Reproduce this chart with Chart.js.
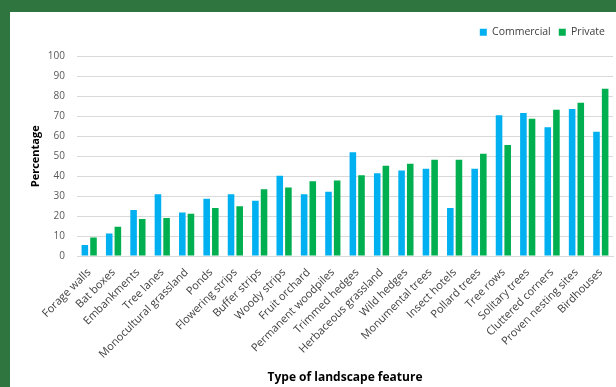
<!DOCTYPE html>
<html lang="en">
<head>
  <meta charset="UTF-8" />
  <title>Landscape features</title>
  <script src="https://cdn.jsdelivr.net/npm/chart.js"></script>
  <style>
    * {
      margin: 0;
      padding: 0;
      box-sizing: border-box;
    }

    body {
      background-color: #2f7540;
      width: 616px;
      height: 387px;
      overflow: hidden;
    }

    .card {
      position: absolute;
      left: 10px;
      top: 12px;
      width: 606px;
      height: 375px;
      background-color: white;
    }
  </style>
</head>
<body>

  <div class="card">
    <canvas id="featureChart" width="606" height="375"></canvas>
  </div>

  <script>
    const features = [
      'Forage walls', 'Bat boxes', 'Embankments', 'Tree lanes', 'Monocultural grassland',
      'Ponds', 'Flowering strips', 'Buffer strips', 'Woody strips', 'Fruit orchard',
      'Permanent woodpiles', 'Trimmed hedges', 'Herbaceous grassland', 'Wild hedges',
      'Monumental trees', 'Insect hotels', 'Pollard trees', 'Tree rows', 'Solitary trees',
      'Cluttered corners', 'Proven nesting sites', 'Birdhouses'
    ];

    const commercial = [5.5, 11.3, 23, 31, 21.8, 28.7, 31, 27.7, 40.2, 31, 32.2,
      52, 41.5, 42.8, 43.7, 24, 43.7, 70.5, 71.7, 64.5, 73.7, 62.3];

    const privateOwners = [9.3, 14.7, 18.5, 19, 21.2, 24, 25, 33.5, 34.3, 37.5, 37.8,
      40.5, 45.2, 46.2, 48.3, 48.3, 51.3, 55.7, 68.8, 73.3, 76.8, 83.8];

    const yTicks = [0, 10, 20, 30, 40, 50, 60, 70, 80, 90, 100];

    // leave some room between the legend row and the plot
    const legendGap = {
      id: 'legendGap',
      beforeInit(chart) {
        const fit = chart.legend.fit;
        chart.legend.fit = function () {
          fit.call(this);
          this.height += 9;
        };
      }
    };

    const ctx = document.getElementById('featureChart').getContext('2d');

    new Chart(ctx, {
      type: 'bar',
      data: {
        labels: features,
        datasets: [
          {
            label: 'Commercial',
            data: commercial,
            backgroundColor: '#00b0f0'
          },
          {
            label: 'Private',
            data: privateOwners,
            backgroundColor: '#00b050'
          }
        ]
      },
      plugins: [legendGap],
      options: {
        responsive: false,
        animation: false,
        categoryPercentage: 0.71,
        barPercentage: 0.76,
        layout: {
          padding: { top: 7, right: 3, bottom: 2, left: 19 }
        },
        plugins: {
          tooltip: { enabled: false },
          legend: {
            position: 'top',
            align: 'end',
            labels: {
              boxWidth: 7,
              boxHeight: 7,
              padding: 8,
              color: '#404040',
              font: { family: 'Open Sans', size: 10.5 }
            }
          }
        },
        scales: {
          x: {
            afterFit: axis => { axis.height = 129; },
            grid: { display: false },
            border: { color: '#d9d9d9' },
            ticks: {
              autoSkip: false,
              maxRotation: 45,
              minRotation: 45,
              padding: 2,
              color: '#404040',
              font: { family: 'Open Sans', size: 11 }
            },
            title: {
              display: true,
              text: 'Type of landscape feature',
              color: '#000',
              padding: { top: 8, bottom: 0 },
              font: { family: 'Open Sans', size: 12, weight: 'bold' }
            }
          },
          y: {
            min: 0,
            max: 100,
            afterFit: axis => { axis.width = 48; },
            afterBuildTicks: axis => {
              axis.ticks = yTicks.map(v => ({ value: v }));
            },
            grid: {
              color: '#d9d9d9',
              drawTicks: false
            },
            border: { display: false },
            ticks: {
              padding: 12,
              color: '#595959',
              font: { family: 'Open Sans', size: 10 }
            },
            title: {
              display: true,
              text: 'Percentage',
              color: '#000',
              padding: { top: 0, bottom: 0 },
              font: { family: 'Open Sans', size: 11, weight: 'bold' }
            }
          }
        }
      }
    });
  </script>

</body>
</html>
